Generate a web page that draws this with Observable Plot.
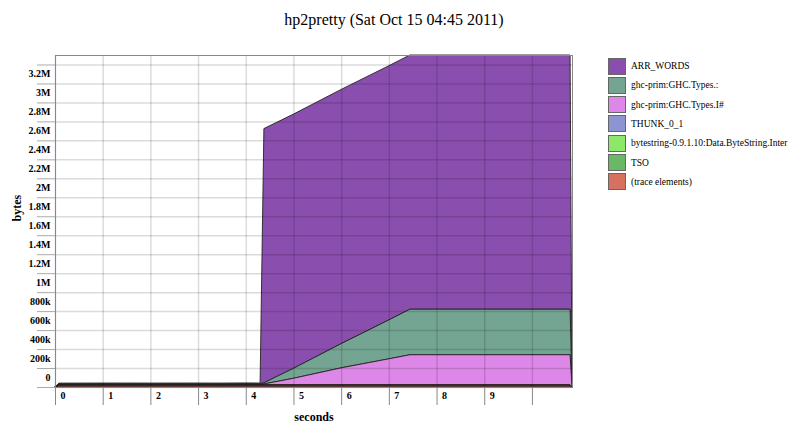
<!DOCTYPE html>
<html><head><meta charset="utf-8">
<script src="https://cdn.jsdelivr.net/npm/d3@7"></script>
<script src="https://cdn.jsdelivr.net/npm/@observablehq/plot@0.6"></script>
<style>
html,body{margin:0;padding:0;background:#fff;overflow:hidden;width:788px;height:443px;}
#title{position:absolute;left:0;top:11px;width:788px;text-align:center;font:16px "Liberation Serif",serif;color:#000;}
#chart{position:absolute;left:0;top:40px;}
#legend{position:absolute;left:608px;top:0;width:180px;height:443px;overflow:hidden;font:9.5px "Liberation Serif",serif;white-space:nowrap;color:#000;}
.item{position:absolute;left:0;height:17px;display:flex;align-items:center;}
.sw{width:16px;height:15px;border:1px solid #666;margin-right:5px;flex:none;}
</style></head>
<body>
<div id="title">hp2pretty (Sat Oct 15 04:45 2011)</div>
<div id="chart"></div>
<div id="legend"></div>
<script>
// legend order (top of stack first); the long name is shown as far as the reference shows it
const seriesNames = ["ARR_WORDS","ghc-prim:GHC.Types.:","ghc-prim:GHC.Types.I#","THUNK_0_1","bytestring-0.9.1.10:Data.ByteString.Inter","TSO","(trace elements)"];
const seriesColors = ["#8a4fae","#74a592","#dd88e8","#8c94d2","#8be86a","#69b865","#d6705f"];

const times = [0, 0.08, 0.5, 1, 1.5, 2, 2.5, 3, 3.5, 4, 4.3, 4.38, 5, 6, 7, 7.44, 8, 9, 10, 10.8, 10.84];

const arrWords = [0, 8000, 8500, 8000, 9000, 8500, 8000, 9000, 8500, 9000, 9000, 2680000, 2680000, 2680000, 2680000, 2680000, 2680000, 2680000, 2680000, 2680000, 0];
const consCells = [0, 6000, 6000, 6500, 6000, 6000, 6500, 6000, 6000, 6500, 6000, 12000, 105000, 255000, 410000, 480000, 480000, 480000, 480000, 480000, 0];
const intBoxes = [0, 5000, 5000, 5500, 5000, 5000, 5500, 5000, 5000, 5500, 5000, 10000, 70000, 180000, 275000, 318000, 318000, 318000, 318000, 318000, 0];
const thunk01 = [0, 3000, 3000, 3000, 3000, 3000, 3000, 3000, 3000, 3000, 3000, 3000, 3000, 3000, 3000, 3000, 3000, 3000, 3000, 3000, 0];
const byteStr = [0, 3000, 3000, 3000, 3000, 3000, 3000, 3000, 3000, 3000, 3000, 3000, 3000, 3000, 3000, 3000, 3000, 3000, 3000, 3000, 0];
const tso = [0, 4000, 4000, 4000, 4000, 4000, 4000, 4000, 4000, 4000, 4000, 4000, 4000, 4000, 4000, 4000, 4000, 4000, 4000, 4000, 0];
const traceEl = [0, 12000, 12000, 12000, 12000, 12000, 12000, 12000, 12000, 12000, 12000, 12000, 12000, 12000, 12000, 12000, 12000, 12000, 12000, 12000, 0];

const seriesValues = [arrWords, consCells, intBoxes, thunk01, byteStr, tso, traceEl];

const xTicks = [0,1,2,3,4,5,6,7,8,9,10];
const xLabelTicks = [0,1,2,3,4,5,6,7,8,9];
const yTicks = [0,200000,400000,600000,800000,1000000,1200000,1400000,1600000,1800000,2000000,2200000,2400000,2600000,2800000,3000000,3200000,3400000];
const yLabelTicks = yTicks.slice(0, 17);

const rows = [];
seriesNames.forEach((s, i) => times.forEach((t, j) => rows.push({series: s, t, v: seriesValues[i][j]})));
const stackOrder = seriesNames.slice().reverse();

const fmt = v => v === 0 ? "0" : v < 1e6 ? (v / 1000) + "k" : (v / 1e6) + "M";

const chart = Plot.plot({
  width: 600, height: 403,
  marginLeft: 55, marginRight: 28, marginTop: 15, marginBottom: 56,
  x: {domain: [0, 10.84]},
  y: {domain: [0, 3.5e6]},
  color: {domain: seriesNames, range: seriesColors},
  style: {fontFamily: '"Liberation Serif", serif', fontSize: "10px", fontWeight: "bold", background: "white", color: "#000", overflow: "visible"},
  marks: [
    Plot.areaY(rows, {x: "t", y: "v", z: "series", fill: "series", order: stackOrder, stroke: "#222", strokeWidth: 0.9}),
    Plot.gridX({ticks: xTicks, stroke: "black", strokeOpacity: 0.14, strokeWidth: 1.5}),
    Plot.gridY({ticks: yTicks, stroke: "black", strokeOpacity: 0.14, strokeWidth: 1.5}),
    Plot.frame({stroke: "#888"}),
    Plot.axisY({ticks: yTicks, tickSize: 18, tickFormat: () => "", stroke: "#aaa", label: null}),
    Plot.axisY({ticks: yLabelTicks, tickSize: 0, tickPadding: 5, dy: -10, tickFormat: fmt, label: null}),
    Plot.axisX({ticks: xTicks, tickSize: 18, tickFormat: () => "", stroke: "#888", label: null}),
    Plot.axisX({ticks: xLabelTicks, tickSize: 0, tickPadding: 4, textAnchor: "start", dx: 5, tickFormat: d => String(d), label: null}),
    Plot.text(["seconds"], {frameAnchor: "bottom", dy: 33, fontSize: 12, text: d => d}),
    Plot.text(["bytes"], {frameAnchor: "left", dx: -38, rotate: -90, fontSize: 12, text: d => d})
  ]
});
document.getElementById("chart").appendChild(chart);

const legend = document.getElementById("legend");
seriesNames.forEach((s, i) => {
  const it = document.createElement("div");
  it.className = "item";
  it.style.top = (57.5 + i * 19.33) + "px";
  const sw = document.createElement("div");
  sw.className = "sw";
  sw.style.background = seriesColors[i];
  const tx = document.createElement("span");
  tx.textContent = s;
  it.appendChild(sw); it.appendChild(tx);
  legend.appendChild(it);
});
</script>
</body></html>
